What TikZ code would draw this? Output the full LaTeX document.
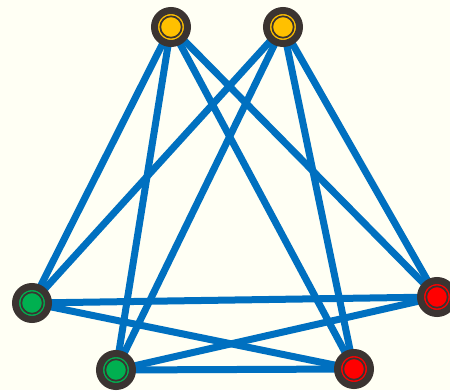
\documentclass[tikz,border=0pt]{standalone}
\usepackage{xcolor}
\definecolor{paperIvory}{HTML}{FFFFF4}
\definecolor{edgeBlue}{HTML}{0070C0}
\definecolor{ringDark}{HTML}{3B3431}
\definecolor{nodeYellow}{HTML}{FFC000}
\definecolor{nodeGreen}{HTML}{00B050}
\definecolor{nodeRed}{HTML}{FF0000}
\usepackage{tikz}
\usetikzlibrary{
    backgrounds
}
\pgfdeclarelayer{paper}
\pgfsetlayers{paper,background,main}
\tikzset{
    % Base style for all vertices - dark rim, coloured core, thin inner ring
    vertex/.style={
        circle,
        inner sep=0pt,
        minimum size=33*0.75pt,
        draw=ringDark,
        line width=7*0.75pt,
        fill=#1,
        path picture={
            \draw[ringDark, line width=1.3pt]
                (path picture bounding box.center) circle (10.7*0.75pt);
        },
    },
    % Connector style - thick blue line
    edge/.style={
        draw=edgeBlue,
        line width=7*0.75pt,
    },
}

\begin{document}
\begin{tikzpicture}[x=0.75pt, y=-0.75pt]
    \useasboundingbox (0,0) rectangle (450,390);
    \clip (0,0) rectangle (450,390);
    \begin{pgfonlayer}{paper}
        \fill[paperIvory] (0,0) rectangle (450,390);
    \end{pgfonlayer}

    \node (top_left) [vertex=nodeYellow] at (171,27) {};
    \node (top_right) [vertex=nodeYellow] at (283,27) {};
    \node (green_left) [vertex=nodeGreen] at (32,303) {};
    \node (green_low) [vertex=nodeGreen] at (116,370) {};
    \node (red_right) [vertex=nodeRed] at (437,297) {};
    \node (red_low) [vertex=nodeRed] at (354,369) {};

    \begin{scope}[on background layer]
        \draw [edge] (top_left.center) -- (green_left.center);
        \draw [edge] (top_left.center) -- (green_low.center);
        \draw [edge] (top_left.center) -- (red_low.center);
        \draw [edge] (top_left.center) -- (red_right.center);
        \draw [edge] (top_right.center) -- (green_left.center);
        \draw [edge] (top_right.center) -- (green_low.center);
        \draw [edge] (top_right.center) -- (red_low.center);
        \draw [edge] (top_right.center) -- (red_right.center);
        \draw [edge] (green_left.center) -- (red_right.center);
        \draw [edge] (green_left.center) -- (red_low.center);
        \draw [edge] (green_low.center) -- (red_right.center);
        \draw [edge] (green_low.center) -- (red_low.center);
    \end{scope}
\end{tikzpicture}
\end{document}
